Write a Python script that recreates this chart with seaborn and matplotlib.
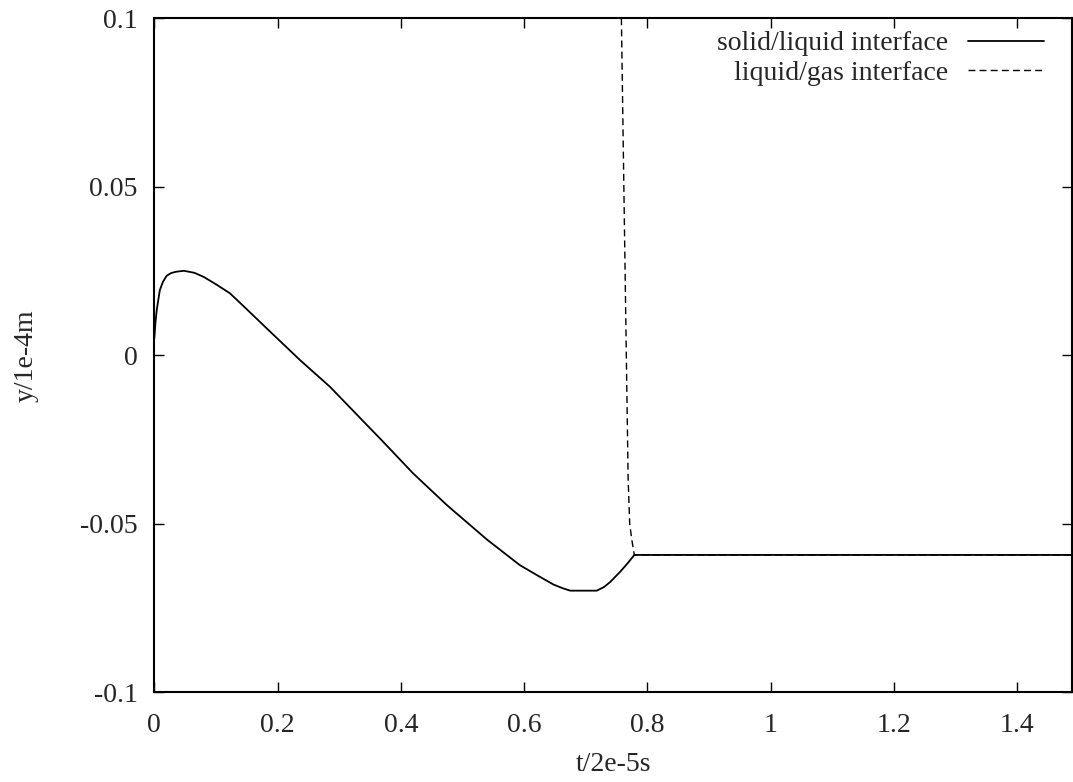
import matplotlib
matplotlib.use("Agg")
import matplotlib.pyplot as plt
import pandas as pd
import seaborn as sns

# solid/liquid interface
t_sl = [0.0, 0.002, 0.004, 0.009, 0.014, 0.020, 0.027, 0.035, 0.048, 0.065,
        0.080, 0.100, 0.1229, 0.150, 0.1825, 0.2365, 0.285, 0.350, 0.366,
        0.420, 0.4747, 0.5396, 0.593, 0.621, 0.648, 0.663, 0.675, 0.718,
        0.730, 0.740, 0.756, 0.768, 0.779, 1.49]
y_sl = [0.005, 0.0100, 0.0135, 0.0194, 0.0218, 0.0236, 0.0244, 0.0248, 0.0251,
        0.0245, 0.0233, 0.0211, 0.0184, 0.0137, 0.0080, -0.0014, -0.0093,
        -0.0216, -0.0246, -0.0350, -0.0444, -0.0546, -0.0622, -0.0652,
        -0.0680, -0.0691, -0.0698, -0.0698, -0.0687, -0.0672, -0.0642,
        -0.0617, -0.0592, -0.0592]

# liquid/gas interface
t_lg = [0.758, 0.762, 0.766, 0.769, 0.7715, 0.775, 0.779, 1.49]
y_lg = [0.10, 0.05, 0.0, -0.037, -0.050, -0.0548, -0.0592, -0.0592]

x_ticks = [0, 0.2, 0.4, 0.6, 0.8, 1.0, 1.2, 1.4]
x_labels = ["0", "0.2", "0.4", "0.6", "0.8", "1", "1.2", "1.4"]
y_ticks = [-0.1, -0.05, 0, 0.05, 0.1]
y_labels = ["-0.1", "-0.05", "0", "0.05", "0.1"]

sns.set_style("ticks")
plt.rcParams["font.family"] = ["Liberation Serif", "DejaVu Serif"]
plt.rcParams["axes.unicode_minus"] = False

df_sl = pd.DataFrame({"t": t_sl, "y": y_sl})
df_lg = pd.DataFrame({"t": t_lg, "y": y_lg})

fig = plt.figure(figsize=(10.73, 7.82), dpi=100)
ax = fig.add_axes([0.1438, 0.1145, 0.8557, 0.8621])

sns.lineplot(data=df_sl, x="t", y="y", color="black", linewidth=1.3,
             estimator=None, sort=False, ax=ax, label="solid/liquid interface")
sns.lineplot(data=df_lg, x="t", y="y", color="black", linewidth=1.0,
             estimator=None, sort=False, ax=ax, label="liquid/gas interface",
             dashes=False)
ax.lines[1].set_dashes((5, 3))

ax.set_xlim(0, 1.49)
ax.set_ylim(-0.1, 0.1)
ax.set_xticks(x_ticks, x_labels)
ax.set_yticks(y_ticks, y_labels)
ax.tick_params(direction="in", length=7, width=1.0, top=True, right=True,
               labelsize=20, pad=12, color="black")
ax.tick_params(axis="x", pad=15)
for s in ax.spines.values():
    s.set_linewidth(1.5)
    s.set_color("black")

ax.set_xlabel("t/2e-5s", fontsize=20, labelpad=10)
ax.set_ylabel("y/1e-4m", fontsize=20, labelpad=30)

leg = ax.legend(loc="upper right", bbox_to_anchor=(0.9825, 1.0), frameon=False,
                fontsize=20, markerfirst=False, handlelength=2.75,
                handletextpad=0.68, labelspacing=0.15, borderpad=0.45,
                borderaxespad=0.0)
for txt in leg.get_texts():
    txt.set_ha("right")

fig.savefig("out.png", dpi=100)
